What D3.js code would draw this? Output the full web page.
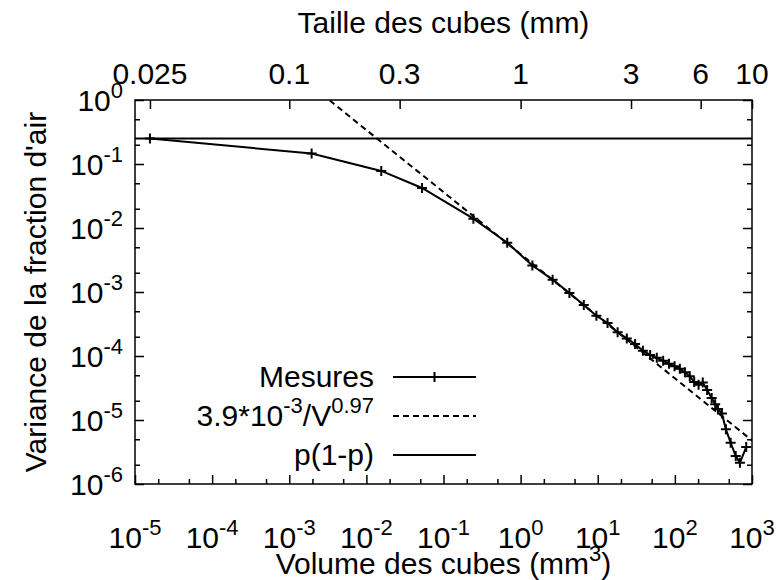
<!DOCTYPE html>
<html>
<head>
<meta charset="utf-8">
<script src="https://cdn.jsdelivr.net/npm/d3@7"></script>
<style>
  html, body { margin: 0; padding: 0; background: #fff; }
  svg { display: block; font-family: "Liberation Sans", Arial, Helvetica, sans-serif; }
</style>
</head>
<body>
<svg id="chart" width="778" height="580"></svg>
<script>
// Measured variance of the air fraction versus cube volume (mm^3)
const volumes = [1.5625e-5, 1.95e-3, 0.0156, 0.0527, 0.244, 0.670, 1.42, 2.60, 4.29, 6.59,
  9.60, 13.4, 18.1, 23.8, 30.5, 38.5, 47.8, 58.3, 70.5, 83.8,
  99.1, 116, 135, 156, 178, 203, 230, 262, 300, 333,
  362, 407, 459, 529, 615, 697, 841];
const variances = [0.25, 0.146, 0.078, 0.0422, 0.0140, 0.00589, 0.00259, 0.00156, 9.68e-4, 6.28e-4,
  4.27e-4, 3.28e-4, 2.34e-4, 1.88e-4, 1.54e-4, 1.21e-4, 1.04e-4, 9.37e-5, 8.41e-5, 7.55e-5,
  6.90e-5, 6.30e-5, 5.56e-5, 4.81e-5, 3.94e-5, 3.54e-5, 3.85e-5, 2.95e-5, 2.21e-5, 1.76e-5,
  1.49e-5, 1.26e-5, 7.14e-6, 4.41e-6, 2.73e-6, 2.14e-6, 3.78e-6];

// Power-law fit: 3.9e-3 / V^0.97, and the p(1-p) limit
const fitCoef = 3.9e-3;
const fitExp = 0.97;
const pLimit = 0.25;

// Axis tick values
const xDecades = [-5, -4, -3, -2, -1, 0, 1, 2, 3];
const yDecades = [0, -1, -2, -3, -4, -5, -6];
const sizeTicks = [0.025, 0.1, 0.3, 1, 3, 6, 10];
const sizeLabels = ["0.025", "0.1", "0.3", "1", "3", "6", "10"];
const minorMultipliers = [2, 5];

(function () {
const svg = d3.select("#chart");
const pL = 135, pR = 752, pT = 100, pB = 484;

const x = d3.scaleLog().domain([1e-5, 1e3]).range([pL, pR]);
const y = d3.scaleLog().domain([1e-6, 1]).range([pB, pT]);

const FS = 30, SUP = 22;

svg.append("defs").append("clipPath").attr("id", "plotclip")
  .append("rect").attr("x", pL).attr("y", pT)
  .attr("width", pR - pL).attr("height", pB - pT);

// Axes built with d3 axis generators (ticks only; labels drawn separately with superscripts)
const minorX = [];
xDecades.slice(0, -1).forEach(d => minorMultipliers.forEach(m => minorX.push(m * Math.pow(10, d))));
const minorY = [];
yDecades.slice(1).forEach(d => minorMultipliers.forEach(m => minorY.push(m * Math.pow(10, d))));
const majorX = xDecades.map(d => Math.pow(10, d));
const majorY = yDecades.map(d => Math.pow(10, d));

function tickAxis(axisFn, scale, values, size, transform) {
  const g = svg.append("g").attr("transform", transform)
    .call(axisFn(scale).tickValues(values).tickSize(size).tickFormat(""));
  g.select(".domain").remove();
  g.selectAll("line").attr("stroke", "#000").attr("stroke-width", 1.5);
  return g;
}
// bottom: ticks pointing up into the plot
tickAxis(d3.axisTop, x, majorX, 9, `translate(0,${pB})`);
tickAxis(d3.axisTop, x, minorX, 5, `translate(0,${pB})`);
// left and right
tickAxis(d3.axisRight, y, majorY, 9, `translate(${pL},0)`);
tickAxis(d3.axisRight, y, minorY, 5, `translate(${pL},0)`);
tickAxis(d3.axisLeft, y, majorY, 9, `translate(${pR},0)`);
tickAxis(d3.axisLeft, y, minorY, 5, `translate(${pR},0)`);
// top: cube side length (volume = side^3)
const x2 = d3.scaleLog().domain([Math.cbrt(1e-5), Math.cbrt(1e3)]).range([pL, pR]);
tickAxis(d3.axisBottom, x2, sizeTicks, 9, `translate(0,${pT})`);

// Frame
svg.append("rect").attr("x", pL).attr("y", pT)
  .attr("width", pR - pL).attr("height", pB - pT)
  .attr("fill", "none").attr("stroke", "#000").attr("stroke-width", 1.5);

// Tick labels with exponent superscripts
function powLabel(sel, exp) {
  sel.append("tspan").text("10");
  sel.append("tspan").attr("dy", -13).attr("font-size", SUP).text(exp);
}
xDecades.forEach(d => {
  const t = svg.append("text").attr("x", x(Math.pow(10, d))).attr("y", 548)
    .attr("text-anchor", "middle").attr("font-size", FS);
  powLabel(t, d);
});
yDecades.forEach(d => {
  const t = svg.append("text").attr("x", 123).attr("y", y(Math.pow(10, d)) + 11)
    .attr("text-anchor", "end").attr("font-size", FS);
  powLabel(t, d);
});
sizeTicks.forEach((s, i) => {
  svg.append("text").attr("x", x2(s)).attr("y", 84)
    .attr("text-anchor", "middle").attr("font-size", FS).text(sizeLabels[i]);
});

// Axis titles
const xt = svg.append("text").attr("x", (pL + pR) / 2).attr("y", 574)
  .attr("text-anchor", "middle").attr("font-size", FS);
xt.append("tspan").text("Volume des cubes (mm");
xt.append("tspan").attr("dy", -13).attr("font-size", SUP).text("3");
xt.append("tspan").attr("dy", 13).text(")");

svg.append("text").attr("x", (pL + pR) / 2).attr("y", 33)
  .attr("text-anchor", "middle").attr("font-size", FS).text("Taille des cubes (mm)");

svg.append("text").attr("transform", `translate(46,${(pT + pB) / 2}) rotate(-90)`)
  .attr("text-anchor", "middle").attr("font-size", FS).text("Variance de la fraction d'air");

// Plot contents
const plot = svg.append("g").attr("clip-path", "url(#plotclip)");

// p(1-p) horizontal line
plot.append("line").attr("x1", pL).attr("x2", pR)
  .attr("y1", y(pLimit)).attr("y2", y(pLimit))
  .attr("stroke", "#000").attr("stroke-width", 2);

// Power-law fit (dashed)
const fitV = d3.range(-5, 3.001, 0.05).map(e => Math.pow(10, e));
plot.append("path")
  .attr("d", d3.line().x(v => x(v)).y(v => y(fitCoef / Math.pow(v, fitExp)))(fitV))
  .attr("fill", "none").attr("stroke", "#000").attr("stroke-width", 2)
  .attr("stroke-dasharray", "6,4");

// Measurements
const pts = volumes.map((v, i) => [v, variances[i]]);
plot.append("path")
  .attr("d", d3.line().x(d => x(d[0])).y(d => y(d[1]))(pts))
  .attr("fill", "none").attr("stroke", "#000").attr("stroke-width", 2);

const cross = (g, cx, cy, r) => {
  g.append("path").attr("d", `M${cx - r},${cy}H${cx + r}M${cx},${cy - r}V${cy + r}`)
    .attr("stroke", "#000").attr("stroke-width", 2);
};
pts.forEach(d => cross(plot, x(d[0]), y(d[1]), 5));

// Legend
const lx1 = 393, lx2 = 476, ltx = 374;
const rows = [377, 416, 455];
svg.append("text").attr("x", ltx).attr("y", rows[0] + 10).attr("text-anchor", "end")
  .attr("font-size", FS).text("Mesures");
svg.append("line").attr("x1", lx1).attr("x2", lx2).attr("y1", rows[0]).attr("y2", rows[0])
  .attr("stroke", "#000").attr("stroke-width", 2);
cross(svg, (lx1 + lx2) / 2, rows[0], 5);

const fl = svg.append("text").attr("x", ltx).attr("y", rows[1] + 10).attr("text-anchor", "end")
  .attr("font-size", FS);
fl.append("tspan").text("3.9*10");
fl.append("tspan").attr("dy", -13).attr("font-size", SUP).text("-3");
fl.append("tspan").attr("dy", 13).text("/V");
fl.append("tspan").attr("dy", -13).attr("font-size", SUP).text("0.97");
svg.append("line").attr("x1", lx1).attr("x2", lx2).attr("y1", rows[1]).attr("y2", rows[1])
  .attr("stroke", "#000").attr("stroke-width", 2).attr("stroke-dasharray", "6,4");

svg.append("text").attr("x", ltx).attr("y", rows[2] + 10).attr("text-anchor", "end")
  .attr("font-size", FS).text("p(1-p)");
svg.append("line").attr("x1", lx1).attr("x2", lx2).attr("y1", rows[2]).attr("y2", rows[2])
  .attr("stroke", "#000").attr("stroke-width", 2);
})();
</script>
</body>
</html>
